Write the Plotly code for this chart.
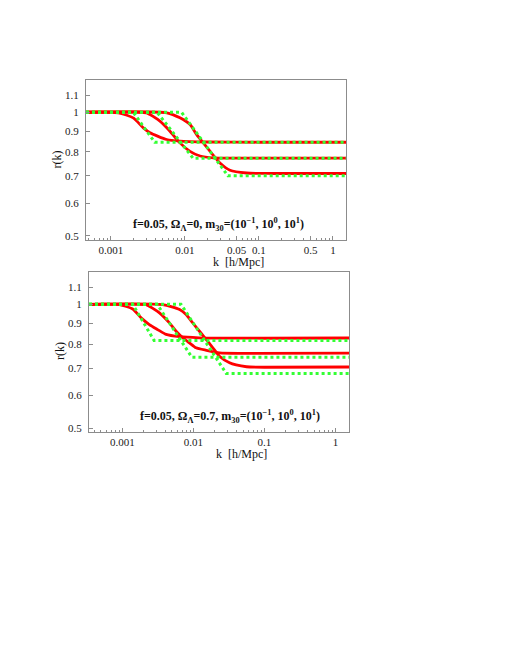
import math
import plotly.graph_objects as go

W, H = 510, 660
PAGE_OFFSET = 8  # default body margin of the html page

# ---- data ----
# top panel: Omega_Lambda = 0
top_red_k = [
    [4.6e-4, 0.00126, 0.0020, 0.00274, 0.00337, 0.00566, 0.00855, 0.02, 0.1, 1.5],
    [4.6e-4, 0.00303, 0.00337, 0.00459, 0.00627, 0.00855, 0.0117, 0.016, 0.0242, 0.05, 1.5],
    [4.6e-4, 0.0057, 0.00855, 0.0117, 0.0144, 0.0177, 0.0218, 0.0297, 0.0406, 0.068, 0.15, 1.5],
]
top_red_r = [
    [1.0, 0.997, 0.969, 0.916, 0.891, 0.858, 0.850, 0.846, 0.845, 0.845],
    [1.0, 0.997, 0.987, 0.951, 0.899, 0.842, 0.803, 0.782, 0.774, 0.773, 0.773],
    [1.0, 0.997, 0.969, 0.933, 0.882, 0.842, 0.803, 0.752, 0.722, 0.711, 0.709, 0.709],
]
top_green_k = [
    [4.6e-4, 0.0020, 0.0039, 1.5],
    [4.6e-4, 0.0042, 0.0129, 1.5],
    [4.6e-4, 0.0090, 0.038, 1.5],
]
top_green_r = [
    [1.0, 1.0, 0.845, 0.845],
    [1.0, 1.0, 0.772, 0.772],
    [1.0, 1.0, 0.700, 0.700],
]

# bottom panel: Omega_Lambda = 0.7
bot_red_k = [
    [3.4e-4, 0.00091, 0.0014, 0.00184, 0.0024, 0.00315, 0.00413, 0.0064, 0.012, 0.1, 1.55],
    [3.4e-4, 0.00216, 0.0024, 0.00333, 0.0046, 0.00572, 0.0071, 0.0088, 0.0109, 0.0152, 0.0234, 0.05, 1.55],
    [3.4e-4, 0.0037, 0.0064, 0.0079, 0.0098, 0.0122, 0.0152, 0.0188, 0.0233, 0.0323, 0.040, 0.056, 0.1, 1.55],
]
bot_red_r = [
    [1.0, 0.998, 0.974, 0.927, 0.893, 0.868, 0.845, 0.834, 0.829, 0.827, 0.828],
    [1.0, 0.998, 0.989, 0.953, 0.901, 0.860, 0.829, 0.806, 0.784, 0.773, 0.762, 0.760, 0.761],
    [1.0, 0.998, 0.971, 0.944, 0.901, 0.860, 0.821, 0.784, 0.748, 0.721, 0.712, 0.705, 0.703, 0.704],
]
bot_green_k = [
    [3.4e-4, 0.0014, 0.0028, 1.55],
    [3.4e-4, 0.0031, 0.0095, 1.55],
    [3.4e-4, 0.0067, 0.029, 1.55],
]
bot_green_r = [
    [1.0, 1.0, 0.817, 0.817],
    [1.0, 1.0, 0.744, 0.744],
    [1.0, 1.0, 0.679, 0.679],
]

top_xticks = [0.001, 0.01, 0.05, 0.1, 0.5, 1]
top_xticktext = ["0.001", "0.01", "0.05", "0.1", "0.5", "1"]
bot_xticks = [0.001, 0.01, 0.1, 1]
bot_xticktext = ["0.001", "0.01", "0.1", "1"]
yticks = [0.5, 0.6, 0.7, 0.8, 0.9, 1.0, 1.1]
yticktext = ["0.5", "0.6", "0.7", "0.8", "0.9", "1", "1.1"]

top_label = "<b>f=0.05, Ω<sub>Λ</sub>=0, m<sub>30</sub>=(10<sup>−1</sup>, 10<sup>0</sup>, 10<sup>1</sup>)</b>"
bot_label = "<b>f=0.05, Ω<sub>Λ</sub>=0.7, m<sub>30</sub>=(10<sup>−1</sup>, 10<sup>0</sup>, 10<sup>1</sup>)</b>"

RED = "#ff0000"
GREEN = "#33ff33"
FRAME = "#8c8c8c"
FONT = "Liberation Serif"

minor_x = [m * 10 ** e for e in range(-4, 1) for m in range(2, 10)]


def px_x(x):
    return (x - PAGE_OFFSET) / W


def px_y(y):
    return 1 - (y - PAGE_OFFSET) / H


fig = go.Figure()

for ks, rs, xa, ya in [(top_red_k, top_red_r, "x", "y"), (bot_red_k, bot_red_r, "x2", "y2")]:
    for k, r in zip(ks, rs):
        fig.add_trace(go.Scatter(x=k, y=r, mode="lines", xaxis=xa, yaxis=ya,
                                 line=dict(color=RED, width=2.8, shape="spline", smoothing=0.6),
                                 showlegend=False, hoverinfo="skip"))

for ks, rs, xa, ya in [(top_green_k, top_green_r, "x", "y"), (bot_green_k, bot_green_r, "x2", "y2")]:
    for k, r in zip(ks, rs):
        fig.add_trace(go.Scatter(x=k, y=r, mode="lines", xaxis=xa, yaxis=ya,
                                 line=dict(color=GREEN, width=3, dash="3px,3px"),
                                 showlegend=False, hoverinfo="skip"))

axis_common = dict(showline=True, linecolor=FRAME, linewidth=1, mirror=True,
                   showgrid=False, zeroline=False, ticks="inside", ticklen=4,
                   tickcolor=FRAME, tickfont=dict(family=FONT, size=11, color="#222"))

fig.update_layout(
    width=W, height=H,
    margin=dict(l=0, r=0, t=0, b=0),
    paper_bgcolor="white", plot_bgcolor="white",
    showlegend=False,
    xaxis=dict(axis_common, type="log", range=[math.log10(4.6e-4), math.log10(1.5)],
               domain=[px_x(86), px_x(346)], anchor="y",
               tickvals=top_xticks, ticktext=top_xticktext,
               minor=dict(ticks="inside", ticklen=2, tickcolor=FRAME, tickmode="array", tickvals=minor_x)),
    yaxis=dict(axis_common, type="log", range=[math.log10(0.488), math.log10(1.2)],
               domain=[px_y(240.7), px_y(80)], anchor="x",
               tickvals=yticks, ticktext=yticktext, ticklabelstandoff=4),
    xaxis2=dict(axis_common, type="log", range=[math.log10(3.4e-4), math.log10(1.55)],
                domain=[px_x(89), px_x(349)], anchor="y2",
                tickvals=bot_xticks, ticktext=bot_xticktext,
                minor=dict(ticks="inside", ticklen=2, tickcolor=FRAME, tickmode="array", tickvals=minor_x)),
    yaxis2=dict(axis_common, type="log", range=[math.log10(0.49), math.log10(1.197)],
                domain=[px_y(433), px_y(273)], anchor="x2",
                tickvals=yticks, ticktext=yticktext, ticklabelstandoff=4),
)

annos = [
    (top_label, 218, 225, 12, 0),
    (bot_label, 230, 418, 12, 0),
    ("k  [h/Mpc]", 238, 263, 12, 0),
    ("k  [h/Mpc]", 241, 455, 12, 0),
    ("r(k)", 57, 160, 12, -90),
    ("r(k)", 60, 352, 12, -90),
]
for text, x, y, size, ang in annos:
    fig.add_annotation(text=text, x=px_x(x), y=px_y(y), xref="paper", yref="paper",
                       showarrow=False, textangle=ang, xanchor="center", yanchor="middle",
                       font=dict(family=FONT, size=size, color="#111"))

fig.write_html("out.html")
